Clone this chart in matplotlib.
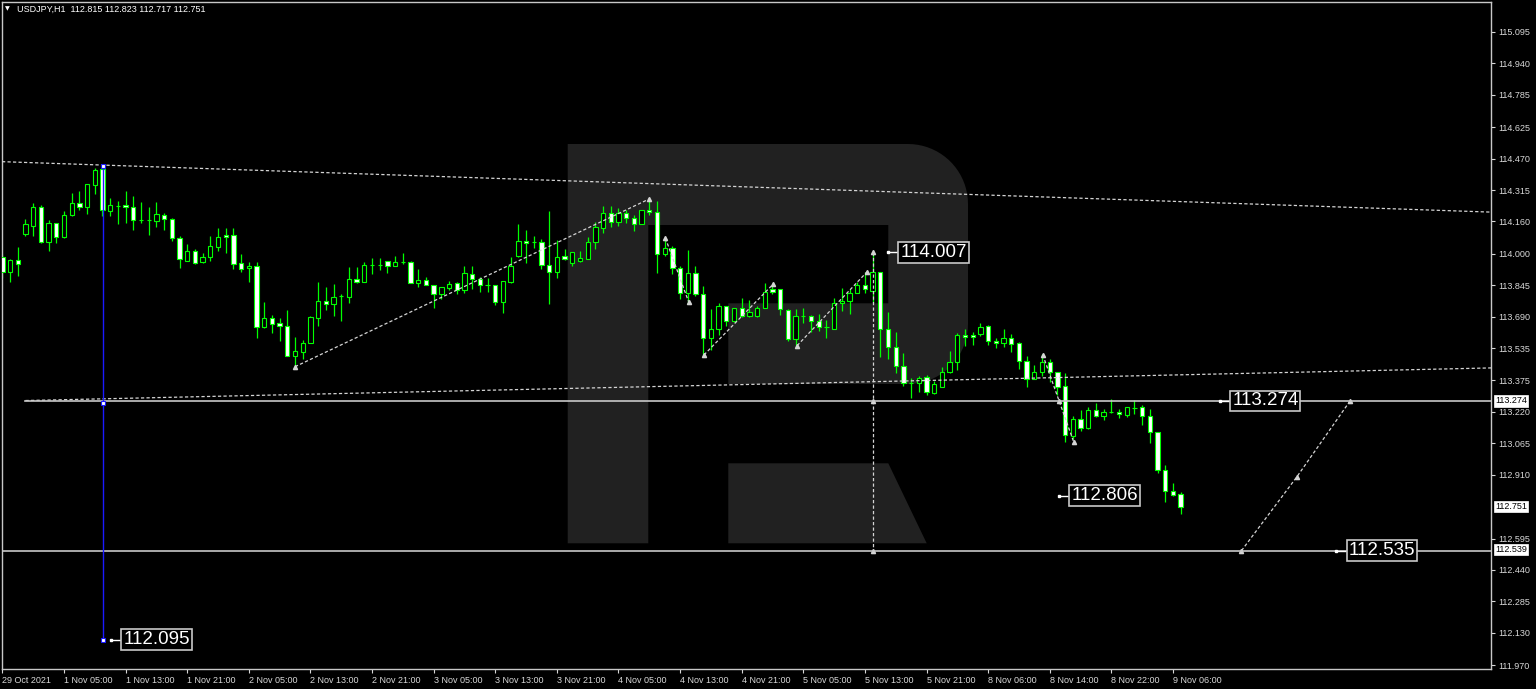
import numpy as np
import matplotlib.pyplot as plt
from matplotlib.patches import Rectangle, Polygon
from matplotlib.transforms import blended_transform_factory

plt.rcParams['font.family'] = ['Liberation Sans', 'DejaVu Sans']

# USDJPY H1 candles, 29 Oct 21:00 .. 9 Nov 07:00
opens = [113.986, 113.912, 113.970, 114.097, 114.139, 114.230, 114.059, 114.151, 114.082, 114.190,
         114.250, 114.230, 114.341, 114.417, 114.213, 114.238, 114.241, 114.230, 114.167, 114.167,
         114.164, 114.192, 114.171, 114.078, 113.966, 114.014, 113.961, 113.986, 114.035, 114.093,
         114.092, 113.953, 113.929, 113.940, 113.640, 113.682, 113.657, 113.645, 113.497, 113.517,
         113.558, 113.685, 113.769, 113.751, 113.793, 113.789, 113.874, 113.860, 113.945, 113.945,
         113.963, 113.940, 113.961, 113.960, 113.858, 113.871, 113.845, 113.800, 113.833, 113.855,
         113.822, 113.902, 113.876, 113.845, 113.845, 113.764, 113.863, 113.991, 114.065, 114.060,
         114.060, 113.945, 113.912, 113.991, 113.953, 113.966, 113.976, 114.057, 114.129, 114.200,
         114.159, 114.203, 114.179, 114.149, 114.216, 114.205, 114.001, 114.030, 113.929, 113.805,
         113.904, 113.802, 113.586, 113.628, 113.743, 113.670, 113.731, 113.693, 113.693, 113.734,
         113.825, 113.825, 113.723, 113.580, 113.695, 113.693, 113.670, 113.640, 113.631, 113.756,
         113.769, 113.808, 113.846, 113.818, 113.909, 113.628, 113.542, 113.446, 113.365, 113.365,
         113.390, 113.315, 113.344, 113.415, 113.465, 113.599, 113.599, 113.603, 113.644, 113.571,
         113.558, 113.583, 113.558, 113.471, 113.382, 113.415, 113.468, 113.418, 113.348, 113.101,
         113.183, 113.142, 113.229, 113.200, 113.218, 113.218, 113.205, 113.241, 113.243, 113.200,
         113.119, 112.933, 112.829, 112.815]
highs = [113.999, 113.975, 114.032, 114.171, 114.250, 114.240, 114.166, 114.153, 114.212, 114.299,
         114.310, 114.345, 114.422, 114.434, 114.274, 114.261, 114.310, 114.286, 114.257, 114.231,
         114.257, 114.203, 114.176, 114.088, 114.049, 114.024, 114.004, 114.088, 114.128, 114.128,
         114.128, 113.998, 113.958, 113.961, 113.761, 113.698, 113.682, 113.723, 113.590, 113.575,
         113.695, 113.861, 113.836, 113.851, 113.802, 113.934, 113.937, 113.960, 113.980, 113.980,
         113.963, 113.989, 114.004, 113.965, 113.925, 113.884, 113.845, 113.836, 113.866, 113.863,
         113.940, 113.940, 113.887, 113.882, 113.845, 113.866, 113.983, 114.147, 114.118, 114.088,
         114.073, 114.212, 114.068, 114.023, 114.011, 114.014, 114.082, 114.159, 114.236, 114.236,
         114.228, 114.216, 114.193, 114.216, 114.274, 114.261, 114.080, 114.039, 113.940, 114.019,
         113.940, 113.841, 113.726, 113.759, 113.743, 113.731, 113.781, 113.772, 113.743, 113.855,
         113.846, 113.828, 113.726, 113.726, 113.734, 113.698, 113.703, 113.674, 113.784, 113.830,
         113.825, 113.863, 113.912, 114.007, 113.909, 113.714, 113.616, 113.509, 113.386, 113.397,
         113.402, 113.374, 113.443, 113.520, 113.608, 113.628, 113.616, 113.657, 113.649, 113.583,
         113.628, 113.604, 113.563, 113.496, 113.451, 113.504, 113.481, 113.418, 113.413, 113.200,
         113.229, 113.243, 113.262, 113.234, 113.282, 113.234, 113.246, 113.279, 113.254, 113.233,
         113.119, 112.958, 112.867, 112.823]
lows = [113.882, 113.863, 113.891, 114.088, 114.088, 114.052, 114.016, 114.052, 114.077, 114.188,
        114.216, 114.195, 114.294, 114.187, 114.188, 114.147, 114.151, 114.118, 114.154, 114.093,
        114.131, 114.118, 114.065, 113.929, 113.966, 113.950, 113.956, 113.966, 114.016, 114.006,
        113.925, 113.909, 113.863, 113.583, 113.636, 113.608, 113.571, 113.497, 113.443, 113.481,
        113.558, 113.645, 113.723, 113.695, 113.669, 113.756, 113.855, 113.860, 113.902, 113.920,
        113.907, 113.940, 113.948, 113.855, 113.835, 113.845, 113.734, 113.777, 113.822, 113.802,
        113.805, 113.827, 113.810, 113.813, 113.748, 113.710, 113.855, 113.986, 113.953, 114.030,
        113.924, 113.752, 113.882, 113.970, 113.942, 113.958, 113.976, 114.024, 114.104, 114.134,
        114.139, 114.154, 114.114, 114.146, 114.193, 113.904, 113.989, 113.901, 113.777, 113.751,
        113.792, 113.497, 113.525, 113.599, 113.644, 113.665, 113.687, 113.687, 113.690, 113.731,
        113.800, 113.698, 113.571, 113.545, 113.660, 113.616, 113.619, 113.586, 113.631, 113.718,
        113.703, 113.805, 113.808, 113.756, 113.489, 113.481, 113.410, 113.348, 113.287, 113.320,
        113.303, 113.308, 113.344, 113.410, 113.427, 113.547, 113.550, 113.595, 113.550, 113.537,
        113.542, 113.517, 113.430, 113.344, 113.382, 113.397, 113.369, 113.303, 113.073, 113.085,
        113.127, 113.136, 113.196, 113.180, 113.213, 113.188, 113.196, 113.208, 113.155, 113.068,
        112.917, 112.777, 112.805, 112.717]
closes = [113.912, 113.970, 113.948, 114.146, 114.230, 114.059, 114.151, 114.082, 114.192, 114.250,
          114.230, 114.345, 114.414, 114.215, 114.241, 114.238, 114.230, 114.167, 114.167, 114.167,
          114.195, 114.172, 114.077, 113.973, 114.014, 113.953, 113.984, 114.037, 114.082, 114.082,
          113.948, 113.925, 113.942, 113.640, 113.682, 113.654, 113.645, 113.497, 113.519, 113.561,
          113.687, 113.766, 113.752, 113.789, 113.793, 113.874, 113.860, 113.945, 113.945, 113.945,
          113.940, 113.958, 113.961, 113.855, 113.869, 113.845, 113.800, 113.836, 113.851, 113.822,
          113.904, 113.876, 113.845, 113.845, 113.764, 113.866, 113.940, 114.065, 114.052, 114.060,
          113.945, 113.912, 113.986, 113.973, 114.008, 113.980, 114.060, 114.131, 114.200, 114.159,
          114.200, 114.177, 114.149, 114.216, 114.205, 113.998, 114.030, 113.929, 113.805, 113.904,
          113.802, 113.583, 113.629, 113.743, 113.670, 113.731, 113.693, 113.714, 113.734, 113.813,
          113.810, 113.726, 113.580, 113.693, 113.695, 113.670, 113.640, 113.640, 113.756, 113.769,
          113.808, 113.846, 113.825, 113.909, 113.628, 113.542, 113.446, 113.361, 113.365, 113.386,
          113.320, 113.356, 113.418, 113.465, 113.599, 113.591, 113.591, 113.640, 113.570, 113.561,
          113.583, 113.555, 113.471, 113.381, 113.415, 113.468, 113.418, 113.344, 113.106, 113.183,
          113.142, 113.229, 113.200, 113.218, 113.218, 113.208, 113.243, 113.241, 113.200, 113.119,
          112.933, 112.829, 112.810, 112.751]

date_labels = ['29 Oct 2021', '1 Nov 05:00', '1 Nov 13:00', '1 Nov 21:00', '2 Nov 05:00',
               '2 Nov 13:00', '2 Nov 21:00', '3 Nov 05:00', '3 Nov 13:00', '3 Nov 21:00',
               '4 Nov 05:00', '4 Nov 13:00', '4 Nov 21:00', '5 Nov 05:00', '5 Nov 13:00',
               '5 Nov 21:00', '8 Nov 06:00', '8 Nov 14:00', '8 Nov 22:00', '9 Nov 06:00']
price_ticks = [115.095, 114.940, 114.785, 114.625, 114.470, 114.315, 114.160, 114.000, 113.845,
               113.690, 113.535, 113.375, 113.220, 113.065, 112.910, 112.595, 112.440, 112.285,
               112.130, 111.970]

# analysis objects
upper_trend = ([-0.05, 193.3], [114.455, 114.206])
lower_trend = ([3, 193.3], [113.276, 113.437])
zigzags = [([38, 84], [113.443, 114.271]),
           ([86.1, 89.1], [114.077, 113.764]),
           ([91.1, 100.1], [113.501, 113.851]),
           ([103.2, 112.3], [113.547, 113.912]),
           ([135.1, 137.2, 139.1], [113.501, 113.276, 113.073]),
           ([160.9, 168.1, 175.0], [112.535, 112.900, 113.274])]
target_bar = 113.1
levels = [113.274, 112.535]
level_start = [3, -0.05]
blue_bar = 13.1
blue_prices = [114.434, 113.262, 112.095]
tag_text = ['114.007', '113.274', '112.806', '112.535', '112.095']
tag_price = [114.007, 113.274, 112.806, 112.535, 112.095]
tag_bar = [116.3, 159.4, 138.5, 174.5, 15.4]
axis_tags = ['113.274', '112.751', '112.539']

W, H = 1536, 689
fig = plt.figure(figsize=(W / 100, H / 100), dpi=100, facecolor='black')
ax = fig.add_axes([2 / W, 20 / H, 1489 / W, 667 / H], facecolor='black')
ax.set_xlim(-0.05, 193.3)
ax.set_ylim(111.951, 115.243)

# watermark logo (pixel coords of the screenshot)
def px(pts):
    return [(x / W, 1 - y / H) for x, y in pts]

t = np.linspace(0, np.pi / 2, 20)
r = 60
outer = [(567.7, 144)]
outer += [(908 + r * np.sin(a), 204 - r * np.cos(a)) for a in t]
outer += [(908 + r * np.cos(a), 324 + r * np.sin(a)) for a in t]
outer += [(728.3, 384), (728.3, 303.3), (888.3, 303.3), (888.3, 225), (648.3, 225),
          (648.3, 543.3), (567.7, 543.3)]
leg = [(728.3, 463.3), (888.3, 463.3), (926.7, 543.3), (728.3, 543.3)]
for shape in (outer, leg):
    ax.add_patch(Polygon(px(shape), closed=True, transform=fig.transFigure,
                         facecolor='#212121', edgecolor='none', zorder=0))

# candles
n = len(opens)
idx = np.arange(n)
ax.vlines(idx, lows, highs, color='#00ff00', lw=0.9, zorder=2)
bw = 0.56
for i in range(n):
    o, c = opens[i], closes[i]
    fc = 'white' if c < o else 'black'
    ax.add_patch(Rectangle((i - bw / 2, min(o, c)), bw, abs(c - o), facecolor=fc,
                           edgecolor='#00ff00', lw=0.8, zorder=3))

dot = (0, (2.6, 1.8))
lc = '#d4d4d4'
ax.plot(*upper_trend, color=lc, lw=0.9, ls=dot, zorder=4)
ax.plot(*lower_trend, color=lc, lw=0.9, ls=dot, zorder=4)
for xs, ys in zigzags:
    ax.plot(xs, ys, color=lc, lw=0.9, ls=dot, zorder=4)
    ax.plot(xs, ys, ls='none', marker='^', ms=3, color=lc, zorder=4)
ax.plot([target_bar, target_bar], [tag_price[0], levels[1]], color=lc, lw=0.9, ls=dot, zorder=4)
ax.plot([target_bar] * 3, [tag_price[0], levels[0], levels[1]], ls='none', marker='^',
        ms=3, color=lc, zorder=4)

for lv, x0 in zip(levels, level_start):
    ax.plot([x0, 193.3], [lv, lv], color='#c8c8c8', lw=1.2, zorder=4)

ax.plot([blue_bar, blue_bar], [blue_prices[0], blue_prices[-1]], color='#1a1aff', lw=1.0, zorder=4)
ax.plot([blue_bar] * 3, blue_prices, ls='none', marker='s', ms=3, mfc='white',
        mec='#1a1aff', mew=0.8, zorder=5)

for s, p, b in zip(tag_text, tag_price, tag_bar):
    ax.plot([b - 1.3, b - 0.1], [p, p], color='white', lw=1.0, zorder=5)
    ax.plot([b - 1.3], [p], ls='none', marker='s', ms=2, color='white', zorder=5)
    ax.text(b + 0.3, p, s, fontsize=13.5, color='white', ha='left', va='center', zorder=6,
            bbox=dict(boxstyle='square,pad=0.1', fc='black', ec='#c8c8c8', lw=1.2))

# axes styling
for sp in ax.spines.values():
    sp.set_color('#c8c8c8')
    sp.set_linewidth(1.0)
ax.yaxis.tick_right()
ax.set_yticks(price_ticks)
ax.set_yticklabels(['%.3f' % v for v in price_ticks])
ax.set_xticks(range(0, n, 8))
ax.set_xticklabels(date_labels, ha='left')
ax.tick_params(axis='y', colors='#d8d8d8', labelsize=6.5, length=3, width=0.8, pad=2)
ax.tick_params(axis='x', colors='#d8d8d8', labelsize=6.5, length=3, width=0.8, pad=2)

tr = blended_transform_factory(ax.transAxes, ax.transData)
for s in axis_tags:
    ax.text(1.0028, float(s), s, transform=tr, fontsize=6.5, color='black', ha='left',
            va='center', clip_on=False, zorder=7,
            bbox=dict(boxstyle='square,pad=0.12', fc='white', ec='white', lw=0.5))

fig.text(5 / W, 1 - 9 / H, '\u25bc', fontsize=4.5, color='white', va='center',
         family='DejaVu Sans')
fig.text(17 / W, 1 - 9 / H, 'USDJPY,H1  112.815 112.823 112.717 112.751', fontsize=6.5,
         color='white', va='center')

fig.savefig('out.png', dpi=100, facecolor='black')
